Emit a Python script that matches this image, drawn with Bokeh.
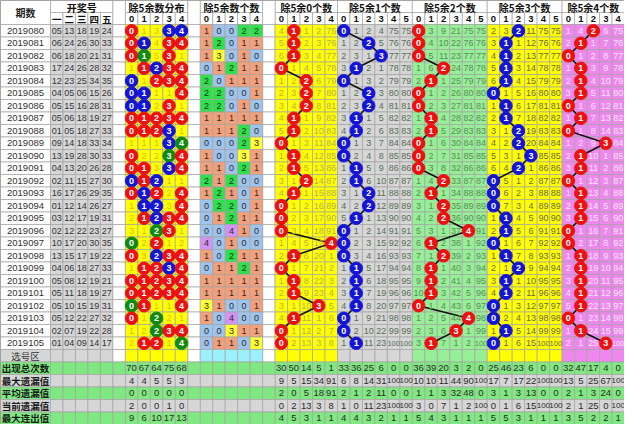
from bokeh.plotting import figure
from bokeh.models import Range1d, ColumnDataSource
from bokeh.embed import file_html
from bokeh.resources import INLINE
from bokeh.core.properties import value

# ---------------- data ----------------
periods = ["2019080", "2019081", "2019082", "2019083", "2019084", "2019085", "2019086",
           "2019087", "2019088", "2019089", "2019090", "2019091", "2019092", "2019093",
           "2019094", "2019095", "2019096", "2019097", "2019098", "2019099", "2019100",
           "2019101", "2019102", "2019103", "2019104", "2019105"]
numbers = [[5, 13, 18, 19, 24], [6, 24, 26, 30, 33], [6, 18, 20, 21, 31], [17, 24, 26, 28, 32],
           [12, 23, 25, 34, 35], [4, 5, 6, 15, 26], [5, 15, 16, 28, 31], [5, 6, 18, 19, 27],
           [1, 5, 18, 27, 33], [9, 14, 18, 33, 34], [13, 19, 28, 30, 33], [4, 13, 20, 26, 28],
           [2, 11, 15, 27, 30], [16, 17, 26, 29, 35], [1, 12, 14, 26, 27], [3, 12, 17, 19, 31],
           [2, 12, 22, 23, 27], [10, 17, 20, 30, 35], [13, 15, 17, 19, 22], [4, 6, 18, 27, 33],
           [5, 8, 12, 19, 21], [5, 11, 18, 19, 27], [5, 10, 15, 19, 31], [5, 12, 22, 27, 32],
           [2, 7, 19, 22, 28], [1, 4, 9, 14, 17]]
# count of numbers with remainder 0..4 (除5余数个数)
rem_counts = [[1, 0, 0, 2, 2], [1, 2, 0, 1, 1], [1, 3, 0, 1, 0], [0, 1, 2, 1, 1], [2, 0, 1, 1, 1],
              [2, 2, 0, 0, 1], [2, 2, 0, 1, 0], [1, 1, 1, 1, 1], [1, 1, 1, 2, 0], [0, 0, 0, 2, 3],
              [1, 0, 0, 3, 1], [1, 1, 0, 2, 1], [2, 1, 2, 0, 0], [1, 2, 1, 0, 1], [0, 2, 2, 0, 1],
              [0, 1, 2, 1, 1], [0, 0, 4, 1, 0], [4, 0, 1, 0, 0], [1, 0, 2, 1, 1], [0, 1, 1, 2, 1],
              [1, 1, 1, 1, 1], [1, 1, 1, 1, 1], [3, 1, 0, 0, 1], [1, 0, 4, 0, 0], [0, 0, 3, 1, 1],
              [0, 1, 1, 0, 3]]
# omission values shown in the first row (None = ball)
dist_first = [None, 1, 3, None, None]
sec_first = [[4, None, 1, 2, 75],
             [None, 1, 2, 4, 75, 75],
             [None, 3, 9, 21, 75, 75],
             [2, 3, None, 11, 75, 75],
             [1, 4, None, 6, 75]]
stat_labels = ["出现总次数", "最大遗漏值", "平均遗漏值", "当前遗漏值", "最大连出值"]
dist_stats = [[70, 67, 64, 75, 68], [4, 4, 5, 5, 3], [0, 0, 0, 0, 0], [2, 0, 0, 1, 0], [9, 6, 10, 17, 13]]
sec_stats = [
    [[30, 50, 14, 5, 1], [9, 5, 15, 34, 91], [2, 0, 5, 18, 91], [0, 2, 13, 3, 8], [4, 5, 3, 1, 1]],
    [[33, 36, 25, 6, 0, 0], [6, 8, 14, 31, 100, 100], [2, 1, 2, 11, 0, 0], [1, 0, 11, 23, 100, 100], [4, 4, 3, 2, 1, 1]],
    [[36, 39, 20, 3, 2, 0], [10, 10, 11, 44, 90, 100], [1, 1, 3, 32, 48, 0], [3, 0, 7, 1, 2, 100], [5, 4, 3, 1, 1, 1]],
    [[25, 46, 23, 6, 0, 0], [17, 7, 17, 22, 100, 100], [3, 1, 3, 13, 0, 0], [0, 1, 6, 15, 100, 100], [5, 5, 3, 1, 1, 1]],
    [[32, 47, 17, 4, 0], [13, 5, 25, 67, 100], [2, 1, 3, 24, 0], [2, 1, 25, 0, 100], [3, 5, 2, 2, 1]],
]
sec_titles = ["除5余0个数", "除5余1个数", "除5余2个数", "除5余3个数", "除5余4个数"]
num_heads = ["一", "二", "三", "四", "五"]

# ---------------- layout ----------------
TW, TH = 624, 424
PW = 50.0
groups = [("nums", 5), ("gap", 1), ("dist", 5), ("gap", 1), ("cnt", 5), ("gap", 1),
          ("s0", 5), ("s1", 6), ("s2", 6), ("s3", 6), ("s4", 5)]
ncols = sum(n for _, n in groups)
cw = (TW - PW) / ncols
gl, gaps = {}, []
xx = PW
for name, n in groups:
    if name == "gap":
        gaps.append(xx)
    else:
        gl[name] = xx
    xx += n * cw
gn = dict((g, n) for g, n in groups if g != "gap")

def cx(g, k):
    return gl[g] + (k + 0.5) * cw

RH = 12.5
H0 = 24.0

def rtop(i):
    return H0 + RH * i

def rc(i):
    return H0 + RH * (i + 0.5)

CJK = "Noto Sans CJK SC"
NUMF = "Liberation Sans"
GRID = "#a4a4a4"
num_bg = "#d6d6d6"
yellow = "#ffff00"
cnt_bg = {0: "#9ec4ee", 1: "#f2a07c", 2: "#2ee04a", 3: "#ffff33", 4: "#d492f6"}
sec_bg = [yellow, "#d6d6d6", "#96ee96", yellow, "#ee88ee"]
sec_tc = ["#b8ae55", "#566e56", "#5a8c5a", "#6a6a4a", "#fbe4fb"]
sec_ball = ["#ee1010", "#1414d8", "#ee1010", "#1414d8", "#ee1010"]
stat_bg = ["#80e880", "#d6d6d6", "#80e880", "#d6d6d6", "#80e880"]
red, blue, green = "#ee1010", "#1414d8", "#108a10"

cells = dict(left=[], right=[], top=[], bottom=[], fill=[])

def cell(l, r, t, b, f):
    cells["left"].append(l); cells["right"].append(r)
    cells["top"].append(t); cells["bottom"].append(b); cells["fill"].append(f)

texts = {}

def txt(x, y, s, color="#333333", size=9, font=NUMF, style="normal"):
    key = (color, size, font, style)
    d = texts.setdefault(key, dict(x=[], y=[], t=[]))
    d["x"].append(x); d["y"].append(y); d["t"].append(s)

balls = dict(x=[], y=[], c=[], t=[])
lines = [dict(x=[], y=[]) for _ in range(5)]

def ball(x, y, c, s):
    balls["x"].append(x); balls["y"].append(y); balls["c"].append(c); balls["t"].append(s)

# ---------------- header ----------------
cell(0, PW, 0, H0, "white")
txt(PW / 2, 12, "期数", "#222222", 10, CJK, "bold")
for g in gn:
    cell(gl[g], gl[g] + gn[g] * cw, 0, 12, "white")
    for k in range(gn[g]):
        cell(gl[g] + k * cw, gl[g] + (k + 1) * cw, 12, H0, "white")
        lab = num_heads[k] if g == "nums" else str(k)
        txt(cx(g, k), 18.5, lab, "#111111", 9.5, CJK if g == "nums" else NUMF, "bold")
for gx in gaps:
    cell(gx, gx + cw, 0, H0, "white")
titles = {"nums": "开奖号", "dist": "除5余数分布", "cnt": "除5余数个数"}
for j in range(5):
    titles["s%d" % j] = sec_titles[j]
for g, t in titles.items():
    txt(gl[g] + gn[g] * cw / 2, 6.5, t, "#111111", 10, CJK, "bold")

# ---------------- omission computation ----------------
nrow = len(periods)
dist_rows = []
prev = None
for i in range(nrow):
    row = []
    for k in range(5):
        if rem_counts[i][k] > 0:
            row.append(None)
        elif i == 0:
            row.append(dist_first[k])
        else:
            row.append((prev[k] or 0) + 1)
    dist_rows.append(row); prev = row

sec_rows = []
for s in range(5):
    K = len(sec_first[s])
    rows = []
    prev = None
    for i in range(nrow):
        c = rem_counts[i][s]
        if i == 0:
            row = [None if k == c else sec_first[s][k] for k in range(K)]
        else:
            row = [None if k == c else (prev[k] or 0) + 1 for k in range(K)]
        rows.append(row); prev = row
    sec_rows.append(rows)

def fsize(v):
    return 7.5 if len(str(v)) >= 3 else 9

# ---------------- data rows ----------------
for i in range(nrow):
    t, b, y = rtop(i), rtop(i) + RH, rc(i)
    cell(0, PW, t, b, "white")
    txt(PW / 2, y, periods[i], "#333333", 9.5, NUMF)
    for k in range(5):
        cell(gl["nums"] + k * cw, gl["nums"] + (k + 1) * cw, t, b, num_bg)
        txt(cx("nums", k), y, "%02d" % numbers[i][k], "#333333", 9, NUMF)
    for gx in gaps:
        cell(gx, gx + cw, t, b, "white")
    for k in range(5):
        cell(gl["dist"] + k * cw, gl["dist"] + (k + 1) * cw, t, b, yellow)
        v = dist_rows[i][k]
        if v is None:
            c = rem_counts[i][k]
            ball(cx("dist", k), y, red if c == 1 else (blue if c == 2 else green), str(k))
        else:
            txt(cx("dist", k), y, str(v), "#d2bc20", fsize(v))
    for k in range(5):
        c = rem_counts[i][k]
        cell(gl["cnt"] + k * cw, gl["cnt"] + (k + 1) * cw, t, b, cnt_bg[c])
        txt(cx("cnt", k), y, str(c), "#2a2a2a", 9)
    for s in range(5):
        g = "s%d" % s
        for k in range(gn[g]):
            cell(gl[g] + k * cw, gl[g] + (k + 1) * cw, t, b, sec_bg[s])
            v = sec_rows[s][i][k]
            if v is None:
                ball(cx(g, k), y, sec_ball[s], str(k))
                lines[s]["x"].append(cx(g, k)); lines[s]["y"].append(y)
            else:
                txt(cx(g, k), y, str(v), sec_tc[s], fsize(v))

# 选号区 row
i = nrow
t, b = rtop(i), rtop(i) + RH
cell(0, PW, t, b, num_bg)
txt(PW / 2, rc(i), "选号区", "#333333", 9.5, CJK)
for k in range(5):
    cell(gl["nums"] + k * cw, gl["nums"] + (k + 1) * cw, t, b, num_bg)
for gx in gaps:
    cell(gx, gx + cw, t, b, "white")
for k in range(5):
    cell(gl["dist"] + k * cw, gl["dist"] + (k + 1) * cw, t, b, yellow)
    cell(gl["cnt"] + k * cw, gl["cnt"] + (k + 1) * cw, t, b, "#9cf0fc")
for s in range(5):
    g = "s%d" % s
    for k in range(gn[g]):
        cell(gl[g] + k * cw, gl[g] + (k + 1) * cw, t, b, sec_bg[s])

# statistics rows
for r in range(5):
    i = nrow + 1 + r
    t, b, y = rtop(i), rtop(i) + RH, rc(i)
    f = stat_bg[r]
    cell(0, PW, t, b, f)
    txt(PW / 2, y, stat_labels[r], "#1a1a1a", 9.5, CJK, "bold")
    for g in gn:
        for k in range(gn[g]):
            cell(gl[g] + k * cw, gl[g] + (k + 1) * cw, t, b, f)
    for gx in gaps:
        cell(gx, gx + cw, t, b, f)
    for k in range(5):
        v = dist_stats[r][k]
        txt(cx("dist", k), y, str(v), "#2a2a2a", fsize(v) + 0.5)
    for s in range(5):
        g = "s%d" % s
        for k in range(gn[g]):
            v = sec_stats[s][r][k]
            txt(cx(g, k), y, str(v), "#2a2a2a", fsize(v) + 0.5)

# ---------------- figure ----------------
p = figure(width=TW, height=TH, x_range=Range1d(0, TW), y_range=Range1d(TH, 0),
           output_backend="svg", toolbar_location=None, min_border=0,
           min_border_left=0, min_border_right=0, min_border_top=0, min_border_bottom=0)
p.axis.visible = False
p.grid.visible = False
p.outline_line_color = "#8a8a8a"
p.background_fill_color = "white"
p.border_fill_color = "white"

p.quad(left="left", right="right", top="top", bottom="bottom", fill_color="fill",
       line_color=GRID, line_width=0.7, source=ColumnDataSource(cells))

for s in range(5):
    p.line(lines[s]["x"], lines[s]["y"], line_color="#111111", line_width=1.6)

p.scatter(x="x", y="y", fill_color="c", line_color="c", size=12.5, marker="circle",
          source=ColumnDataSource(balls))
p.text(x="x", y="y", text="t", text_color="white", text_font=value(NUMF),
       text_font_size="9px", text_font_style="bold", text_align="center",
       text_baseline="middle", source=ColumnDataSource(balls))

for (color, size, font, style), d in texts.items():
    p.text(x=d["x"], y=d["y"], text=d["t"], text_color=color, text_font=value(font),
           text_font_size="%gpx" % size, text_font_style=style, text_align="center",
           text_baseline="middle")

open("out.html", "w").write(file_html(p, INLINE))
